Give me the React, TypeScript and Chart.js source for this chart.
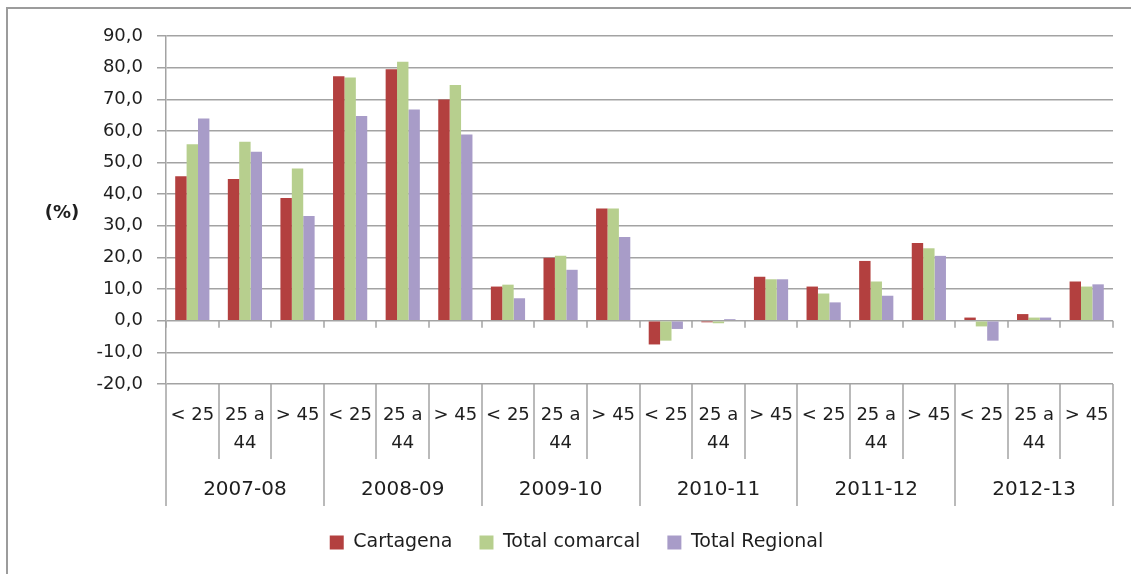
import React, { useEffect, useRef } from "react";
import { Chart, registerables } from "chart.js";

Chart.register(...registerables);

const periods = ["2007-08", "2008-09", "2009-10", "2010-11", "2011-12", "2012-13"];
const ageGroups = [["< 25"], ["25 a", "44"], ["> 45"]];
const seriesNames = ["Cartagena", "Total comarcal", "Total Regional"];
const cartagena = [45.7, 44.8, 38.8, 77.3, 79.5, 69.9, 10.8, 19.9, 35.5, -7.5, -0.5, 13.9, 10.8, 18.9, 24.6, 1.0, 2.1, 12.4];
const comarcal = [55.8, 56.6, 48.1, 76.9, 81.9, 74.5, 11.4, 20.5, 35.5, -6.3, -0.8, 13.1, 8.6, 12.4, 22.9, -1.8, 1.0, 10.8];
const regional = [63.9, 53.4, 33.1, 64.7, 66.8, 58.9, 7.1, 16.1, 26.5, -2.6, 0.5, 13.1, 5.8, 7.9, 20.5, -6.3, 1.0, 11.5];
const yMin = -20;
const yMax = 90;
const yStep = 10;
const yAxisTitle = "(%)";

const categories = periods.flatMap((p) => ageGroups.map((a) => `${p} ${a.join(" ")}`));

const FONT = "'DejaVu Sans', 'Liberation Sans', sans-serif";
const TEXT = "#1e1e1e";
const LINE = "#a3a3a3";

const tablePlugin = {
  id: "tableAxis",
  beforeDraw(chart: any) {
    const ctx = chart.ctx;
    ctx.save();
    ctx.strokeStyle = "#9c9c9c";
    ctx.lineWidth = 2;
    ctx.beginPath();
    ctx.moveTo(7, chart.height);
    ctx.lineTo(7, 8);
    ctx.lineTo(chart.width, 8);
    ctx.stroke();
    ctx.restore();
  },
  afterDraw(chart: any) {
    const ctx = chart.ctx;
    const xs = chart.scales.x;
    const ys = chart.scales.y;
    const area = chart.chartArea;
    const n = categories.length;
    const w = xs.getPixelForValue(1) - xs.getPixelForValue(0);
    const top = area.bottom;
    const y0 = ys.getPixelForValue(0);
    ctx.save();
    ctx.strokeStyle = LINE;
    ctx.lineWidth = 1.5;
    for (let i = 0; i <= n; i++) {
      const b = i < n ? xs.getPixelForValue(i) - w / 2 : xs.getPixelForValue(n - 1) + w / 2;
      const bx = Math.round(b);
      const len = i % ageGroups.length === 0 ? 122 : 75;
      ctx.beginPath();
      ctx.moveTo(bx, top);
      ctx.lineTo(bx, top + len);
      ctx.stroke();
      ctx.beginPath();
      ctx.moveTo(bx, y0);
      ctx.lineTo(bx, y0 + 7);
      ctx.stroke();
    }
    ctx.fillStyle = TEXT;
    ctx.textAlign = "center";
    ctx.textBaseline = "middle";
    ctx.font = `18px ${FONT}`;
    for (let i = 0; i < n; i++) {
      const cx = xs.getPixelForValue(i);
      const lines = ageGroups[i % ageGroups.length];
      lines.forEach((t, k) => ctx.fillText(t, cx, top + 31 + k * 28));
    }
    ctx.font = `20px ${FONT}`;
    periods.forEach((p, g) => {
      const a = xs.getPixelForValue(g * ageGroups.length);
      const b = xs.getPixelForValue(g * ageGroups.length + ageGroups.length - 1);
      ctx.fillText(p, (a + b) / 2, top + 106);
    });
    ctx.font = `bold 18px ${FONT}`;
    ctx.fillText(yAxisTitle, area.left - 104, (area.top + area.bottom) / 2 + 3);
    ctx.restore();
  },
};

export default function App() {
  const ref = useRef<HTMLCanvasElement>(null);
  useEffect(() => {
    if (!ref.current) return;
    const chart = new Chart(ref.current, {
      type: "bar",
      data: {
        labels: categories,
        datasets: [
          { label: seriesNames[0], data: cartagena, backgroundColor: "#b3403f" },
          { label: seriesNames[1], data: comarcal, backgroundColor: "#b7cf8e" },
          { label: seriesNames[2], data: regional, backgroundColor: "#a89cc8" },
        ],
      },
      options: {
        animation: false,
        responsive: false,
        maintainAspectRatio: false,
        layout: { padding: { left: 40, right: 18, top: 36, bottom: 12 } },
        datasets: { bar: { categoryPercentage: 0.65, barPercentage: 1.0 } },
        scales: {
          x: {
            type: "category",
            ticks: { display: false },
            grid: { display: false },
            border: { display: false },
            afterFit: (s: any) => {
              s.height = 122;
            },
          },
          y: {
            min: yMin,
            max: yMax,
            ticks: {
              stepSize: yStep,
              color: TEXT,
              padding: 14,
              font: { family: FONT, size: 18 },
              callback: (v: any) => Number(v).toFixed(1).replace(".", ","),
            },
            grid: { color: LINE, lineWidth: 1.5, tickLength: 9, drawTicks: true },
            border: { display: true, color: LINE, width: 1.5 },
            afterFit: (s: any) => {
              s.width = 126;
            },
          },
        },
        plugins: {
          legend: {
            position: "bottom",
            labels: {
              color: TEXT,
              font: { family: FONT, size: 19 },
              boxWidth: 14,
              boxHeight: 14,
              padding: 27,
            },
          },
          tooltip: { enabled: false },
        },
      },
      plugins: [tablePlugin],
    });
    return () => chart.destroy();
  }, []);
  return (
    <div style={{ position: "fixed", left: 0, top: 0, width: 1131, height: 574, background: "#fff" }}>
      <canvas ref={ref} width={1131} height={574} />
    </div>
  );
}
